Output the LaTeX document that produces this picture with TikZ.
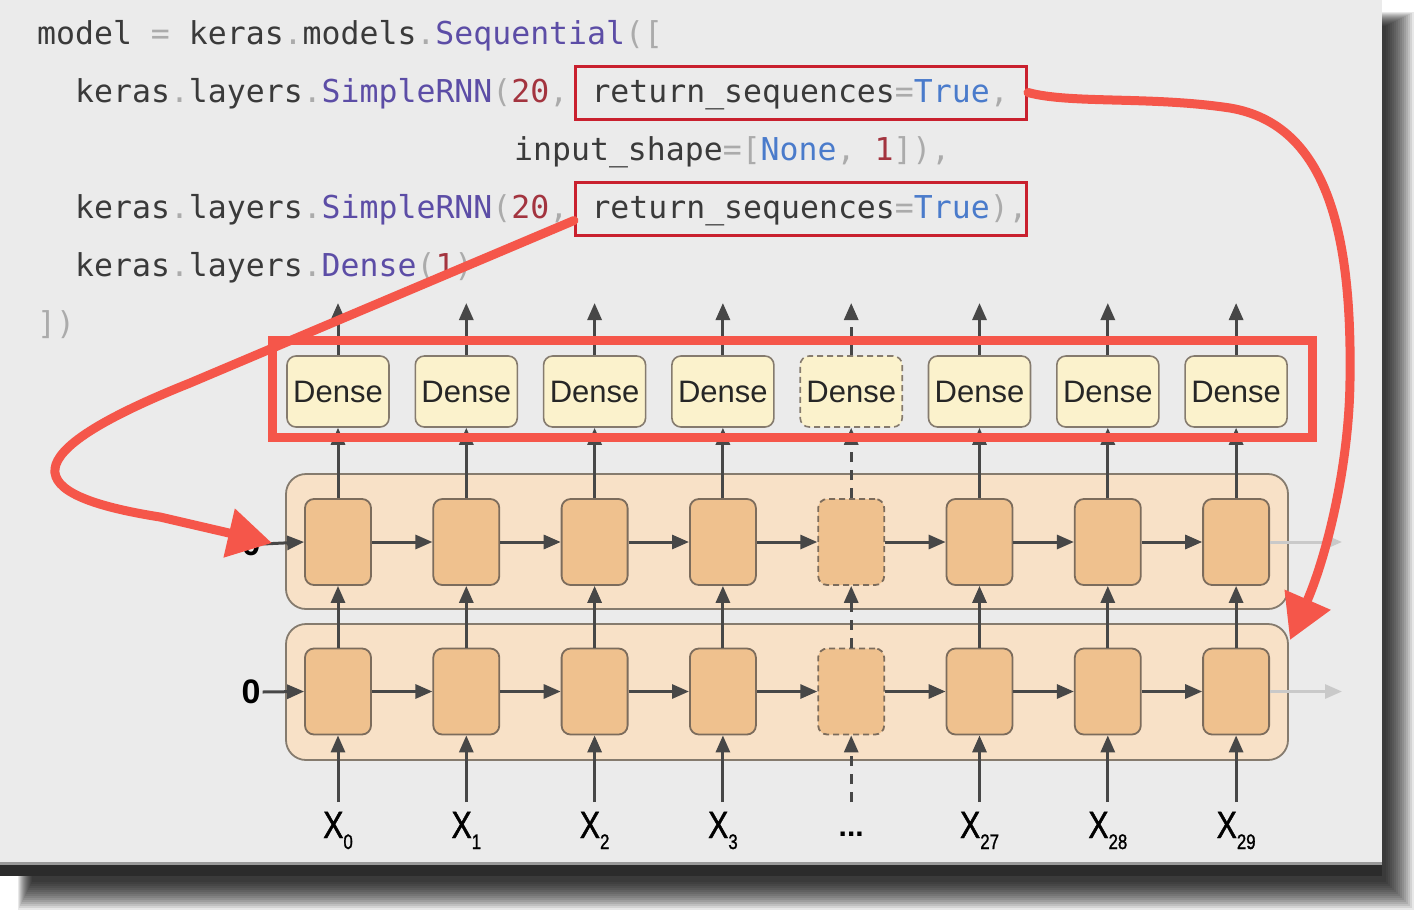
\documentclass[tikz,border=0pt]{standalone}
\usepackage{fontspec}
\setmainfont{Liberation Sans}
\newfontfamily\codefont{DejaVu Sans Mono}
\newfontfamily\narrowfont[FakeStretch=0.8,FakeBold=1.2]{Liberation Sans}
\usetikzlibrary{arrows.meta}

\definecolor{slide}{HTML}{EBEBEB}
\definecolor{band}{HTML}{2B2B2B}
\definecolor{codefg}{HTML}{3A3A3A}
\definecolor{codepun}{HTML}{ABABAB}
\definecolor{codefun}{HTML}{5C4DA6}
\definecolor{codenum}{HTML}{A3343F}
\definecolor{codekw}{HTML}{4A7BCB}
\definecolor{boxred}{HTML}{C9202E}
\definecolor{markred}{HTML}{F5564A}
\definecolor{densefill}{HTML}{FBF2CC}
\definecolor{cellfill}{HTML}{EFC18E}
\definecolor{layerfill}{HTML}{F8E1C7}
\definecolor{edge}{HTML}{857B6E}
\definecolor{celledge}{HTML}{7C6C5C}
\definecolor{wire}{HTML}{474747}
\definecolor{ghost}{HTML}{C9C9C9}

% colouring helpers for the code listing
\newcommand\cpun[1]{\textcolor{codepun}{#1}}
\newcommand\cfun[1]{\textcolor{codefun}{#1}}
\newcommand\cnum[1]{\textcolor{codenum}{#1}}
\newcommand\ckw[1]{\textcolor{codekw}{#1}}
\newcommand\us{\char"5F\relax}
% input label with subscript
\newcommand\xlab[1]{X\raisebox{-11pt}{\fontsize{21}{21}\selectfont #1}}

\begin{document}
\begin{tikzpicture}[x=1pt,y=-1pt,
  codetext/.style={font=\codefont\fontsize{31.5}{36}\selectfont, text=codefg, inner sep=0pt, anchor=base west},
  codebox/.style={draw=boxred, line width=3pt, inner xsep=16pt, inner ysep=11pt, text height=25pt, text depth=6pt},
  densebox/.style={draw=edge, fill=densefill, line width=1.6pt, rounded corners=9pt,
    minimum width=102pt, minimum height=71pt, inner sep=0pt,
    font=\fontsize{31}{31}\selectfont, text=black!85},
  cell/.style={draw=celledge, fill=cellfill, line width=1.8pt, rounded corners=9pt,
    minimum width=66pt, minimum height=86pt, inner sep=0pt},
  rnnlayer/.style={draw=edge, fill=layerfill, line width=1.8pt, rounded corners=20pt},
  wire/.style={draw=wire, line width=3pt, -{Triangle[length=17pt,width=14pt]}},
  ghostwire/.style={draw=ghost, line width=3pt, -{Triangle[length=17pt,width=14pt]}},
  solidcol/.style={},
  boxdash/.style={dash pattern=on 6pt off 4pt},
  linedash/.style={dash pattern=on 10pt off 8pt},
  zero/.style={font=\bfseries\fontsize{34}{34}\selectfont, text=black, inner sep=2pt},
  xlabel/.style={font=\narrowfont\fontsize{38}{38}\selectfont, text=black, inner sep=0pt, anchor=base},
  markline/.style={draw=markred, line width=9pt},
  markarrow/.style={markline, line cap=round, -{Triangle[length=44pt,width=48pt]}}
]
\useasboundingbox (0,0) rectangle (1422,916);
\fill[white] (0,0) rectangle (1422,916);

% soft drop shadow behind the slide
\foreach \k in {0,...,14}
  \fill[black,opacity=0.09] (18+\k,12+\k) rectangle (1414-2*\k,910-2*\k);

% slide
\fill[slide] (0,0) rectangle (1382,862);
\fill[black!40] (0,862) rectangle (1382,865);
\fill[band] (0,865) rectangle (1382,876);

% code listing
\node[codetext] (l1) at (37,44) {model \cpun{=} keras\cpun{.}models\cpun{.}\cfun{Sequential}\cpun{([}};
\node[codetext] (l2) at (75,102) {keras\cpun{.}layers\cpun{.}\cfun{SimpleRNN}\cpun{(}\cnum{20}\cpun{,}};
\node[codetext,codebox] (rs1) at (574,102) {\makebox[419pt][l]{return\us sequences\cpun{=}\ckw{True}\cpun{,}}};
\node[codetext] (l3) at (514,160) {input\us shape\cpun{=[}\ckw{None}\cpun{,} \cnum{1}\cpun{]),}};
\node[codetext] (l4) at (75,218) {keras\cpun{.}layers\cpun{.}\cfun{SimpleRNN}\cpun{(}\cnum{20}\cpun{,}};
\node[codetext,codebox] (rs2) at (574,218) {\makebox[419pt][l]{return\us sequences\cpun{=}\ckw{True}\cpun{),}}};
\node[codetext] (l5) at (75,276) {keras\cpun{.}layers\cpun{.}\cfun{Dense}\cpun{(}\cnum{1}\cpun{)}};
\node[codetext] (l6) at (37,334) {\cpun{])}};

% the two recurrent layers
\draw[rnnlayer] (286,474) rectangle (1288,609);
\draw[rnnlayer] (286,624) rectangle (1288,760);

% time steps: dense head, upper cell, lower cell
\foreach \i/\bs in {0/solidcol,1/solidcol,2/solidcol,3/solidcol,4/boxdash,5/solidcol,6/solidcol,7/solidcol} {
  \pgfmathsetmacro\cx{338+128.3*\i}
  \node[densebox,\bs] (d\i) at (\cx,391.5) {Dense};
  \node[cell,\bs] (t\i) at (\cx,542) {};
  \node[cell,\bs] (b\i) at (\cx,691.5) {};
  \coordinate (in\i) at (\cx,802);
  \coordinate (out\i) at (\cx,303);
}

% vertical flow
\foreach \i/\ls in {0/solidcol,1/solidcol,2/solidcol,3/solidcol,4/linedash,5/solidcol,6/solidcol,7/solidcol} {
  \draw[wire,\ls] (in\i) -- (b\i);
  \draw[wire,\ls] (b\i) -- (t\i);
  \draw[wire,\ls] (t\i) -- (d\i);
  \draw[wire,\ls] (d\i) -- (out\i);
}

% recurrent connections
\foreach \i/\j in {0/1,1/2,2/3,3/4,4/5,5/6,6/7} {
  \draw[wire] (t\i) -- (t\j);
  \draw[wire] (b\i) -- (b\j);
}

% initial states
\node[zero] (z1) at (251,544) {0};
\node[zero] (z0) at (251,692) {0};
\draw[wire] (z1.east) -- (t0.west);
\draw[wire] (z0.east) -- (b0.west);

% final states
\coordinate (tend) at (1342,542);
\coordinate (bend) at (1342,691.5);
\draw[ghostwire] (t7) -- (tend);
\draw[ghostwire] (b7) -- (bend);

% inputs
\foreach \i/\n in {0/0,1/1,2/2,3/3,5/27,6/28,7/29}
  \node[xlabel] (x\i) at (338+128.3*\i,838) {\xlab{\n}};
\node[xlabel,font=\bfseries\fontsize{30}{30}\selectfont] (x4) at (851.2,836) {...};

% highlight of the dense heads
\draw[markline] (272,340) rectangle (1312,437);

% annotation arrows
\coordinate (lhook) at (272,543);
\coordinate (rhook) at (1290,640);
\draw[markarrow] ([yshift=-12pt]rs2.west) -- (190,383)
  .. controls (10,455) and (20,495) .. (160,517) -- (lhook);
\draw[markarrow] (rs1.east) .. controls (1070,104) and (1150,96) .. (1230,108)
  .. controls (1330,125) and (1352,240) .. (1350,380)
  .. controls (1349,470) and (1325,560) .. (rhook);
\end{tikzpicture}
\end{document}
